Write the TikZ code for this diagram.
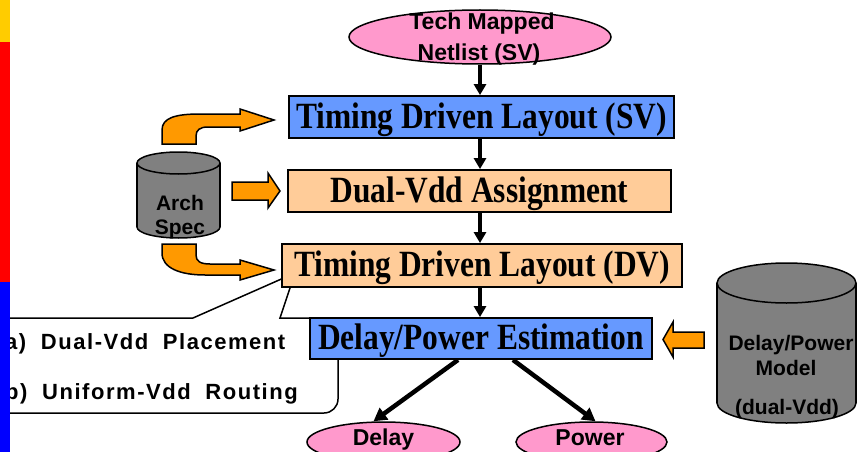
\documentclass[tikz,border=0pt]{standalone}
\usepackage{fontspec}
\setmainfont{Liberation Sans}
\newfontfamily\tnr[FakeStretch=0.85]{Liberation Serif}
\newfontfamily\callf[LetterSpace=7]{Liberation Sans}
\usetikzlibrary{shapes.geometric,arrows.meta}
\definecolor{boxblue}{HTML}{6699FF}
\definecolor{peach}{HTML}{FFCC99}
\definecolor{pinkc}{HTML}{FF99CC}
\definecolor{orangec}{HTML}{FF9900}
\definecolor{grayc}{HTML}{808080}
\definecolor{barY}{HTML}{FFCC00}
\definecolor{barR}{HTML}{FF0000}
\definecolor{barB}{HTML}{0000FF}
\begin{document}
\begin{tikzpicture}[x=1pt,y=-1pt,
 flowbox/.style={draw=black, line width=1.8pt, inner sep=0pt, text height=28pt, text depth=6pt, font=\tnr\bfseries\fontsize{37}{40}\selectfont},
 oval/.style={ellipse, draw=black, line width=1.5pt, fill=pinkc, inner sep=0pt},
 lbl/.style={font=\bfseries\fontsize{23}{26}\selectfont, inner sep=0pt, anchor=base},
 cyltext/.style={font=\bfseries\fontsize{21}{24}\selectfont, inner sep=0pt, anchor=base},
 calltext/.style={font=\callf\bfseries\fontsize{22}{24}\selectfont, inner sep=0pt, anchor=base west},
 flow/.style={line width=3.2pt, -{Triangle[length=11pt,width=12pt]}},
 diag/.style={line width=4.5pt, -{Triangle[length=13pt,width=14pt]}},
 fat/.style={fill=orangec, draw=black, line width=1.5pt, line join=miter},
 cylside/.style={draw=black, line width=1.5pt},
 cyl/.style={fill=grayc, draw=black, line width=1.5pt},
 callout/.style={fill=white, draw=black, line width=1.5pt}
]
\useasboundingbox (0,0) rectangle (859,452);
\clip (0,0) rectangle (859,452);
\fill[white] (0,0) rectangle (859,452);

% callout
\draw[callout] (100,318) -- (193,318) -- (295,273) -- (280,318) -- (315,318) [rounded corners=14pt] -- (338,318) -- (338,413) -- (-8,413) -- (-8,318) -- (60,318) [sharp corners] -- cycle;
\node[calltext] (ca) at (5,349) {a)\hspace{7pt} Dual-Vdd\hspace{7pt} Placement};
\node[calltext] (cb) at (5,399) {b)\hspace{7pt} Uniform-Vdd\hspace{7pt} Routing};

% orange block arrows
\draw[fat] (162,144) -- (162,130) .. controls (162,118) and (175,114) .. (200,114) -- (240,114) -- (240,109) -- (274,120) -- (240,131) -- (240,127) -- (208,127) .. controls (200,127) and (196,130) .. (196,136) -- (196,144) -- cycle;
\draw[fat] (232,182) -- (268,182) -- (268,173) -- (280,191) -- (268,208) -- (268,200) -- (232,200) -- cycle;
\draw[fat] (162,244) -- (162,253) .. controls (162,268) and (180,275) .. (205,275) -- (240,275) -- (240,280) -- (274,270) -- (240,260) -- (240,264) -- (210,264) .. controls (200,264) and (196,261) .. (196,255) -- (196,244) -- cycle;
\draw[fat] (704,332) -- (673,332) -- (673,322) -- (663,339.5) -- (673,357) -- (673,348) -- (704,348) -- cycle;

% Arch Spec cylinder
\filldraw[cyl] (178.5,227) ellipse [x radius=41.5, y radius=11];
\fill[grayc] (137,163) rectangle (220,227);
\draw[cylside] (137,163) -- (137,227) (220,163) -- (220,227);
\filldraw[cyl] (178.5,163) ellipse [x radius=41.5, y radius=11];
\node[cyltext] (archA) at (180,210) {Arch};
\node[cyltext] (archB) at (180,234) {Spec};

% Delay/Power model cylinder
\filldraw[cyl] (786.5,403) ellipse [x radius=69.5, y radius=20];
\fill[grayc] (717,283) rectangle (856,403);
\draw[cylside] (717,283) -- (717,403) (856,283) -- (856,403);
\filldraw[cyl] (786.5,283) ellipse [x radius=69.5, y radius=20];
\node[cyltext] (dpA) at (791,350) {Delay/Power};
\node[cyltext] (dpB) at (786,375) {Model};
\node[cyltext] (dpC) at (787,414) {(dual-Vdd)};

% netlist
\node[oval, minimum width=262pt, minimum height=54pt] (net) at (480,37) {};
\node[lbl] (netA) at (482,30) {Tech Mapped};
\node[lbl] (netB) at (479,60) {Netlist (SV)};

% flow boxes
\node[flowbox, fill=boxblue, minimum width=385pt, minimum height=42pt] (b1) at (481.5,117) {Timing Driven Layout (SV)};
\node[flowbox, fill=peach, minimum width=383pt, minimum height=42pt] (b2) at (479.5,191) {Dual-Vdd Assignment};
\node[flowbox, fill=peach, minimum width=400pt, minimum height=43pt] (b3) at (482,265.5) {Timing Driven Layout (DV)};
\node[flowbox, fill=boxblue, minimum width=342pt, minimum height=41pt] (b4) at (481,338.5) {Delay/Power Estimation};

\draw[flow] (net.south) -- (net.south |- b1.north);
\draw[flow] (b1.south -| net) -- (b2.north -| net);
\draw[flow] (b2.south -| net) -- (b3.north -| net);
\draw[flow] (b3.south -| net) -- (b4.north -| net);

% outputs
\node[oval, minimum width=153pt, minimum height=40pt] (delay) at (383.5,442) {};
\node[oval, minimum width=151pt, minimum height=40pt] (power) at (591.5,442) {};
\node[lbl] (delayT) at (383.5,445) {Delay};
\node[lbl] (powerT) at (590,445) {Power};
\draw[diag] ([xshift=-23pt]b4.south) -- ([xshift=-10pt]delay.north);
\draw[diag] ([xshift=32pt]b4.south) -- ([xshift=4pt]power.north);

% side bar
\fill[barY] (0,0) rectangle (10,42);
\fill[barR] (0,42) rectangle (10,282);
\fill[barB] (0,282) rectangle (10,452);
\end{tikzpicture}
\end{document}
